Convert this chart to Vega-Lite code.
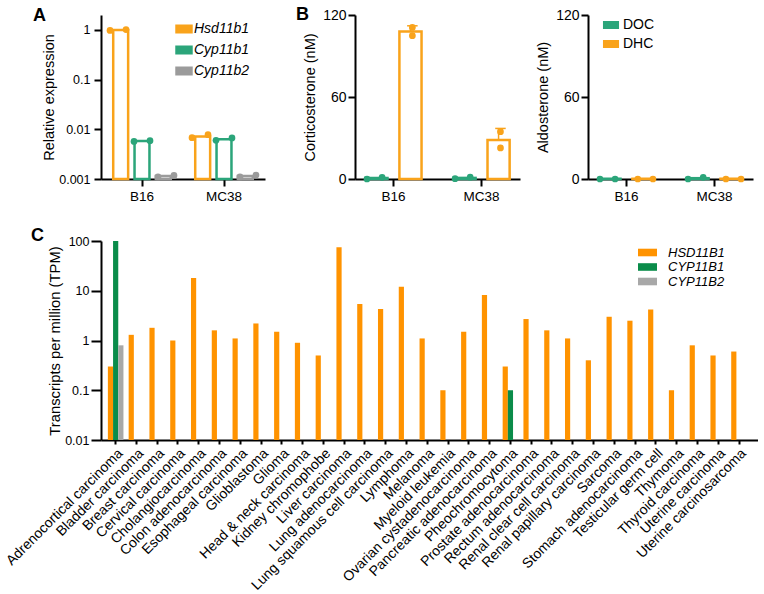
{
  "$schema": "https://vega.github.io/schema/vega-lite/v6.json",
  "padding": {"left": 3, "top": 6, "right": 0, "bottom": 0},
  "config": {
    "font": "Liberation Sans",
    "view": {"stroke": null},
    "axis": {"domainColor": "black", "domainWidth": 2, "tickColor": "black", "tickWidth": 2, "labelColor": "black", "titleColor": "black", "labelFontSize": 13, "titleFontSize": 14.5, "titleFontWeight": "normal", "grid": false},
    "title": {"fontSize": 18, "fontWeight": "bold", "anchor": "start", "frame": "group", "color": "black"},
    "legend": {"labelColor": "black"}
  },
  "datasets": {
    "aBars": [
      {"group": "B16", "gene": "Hsd11b1", "value": 1.0},
      {"group": "B16", "gene": "Cyp11b1", "value": 0.0058},
      {"group": "B16", "gene": "Cyp11b2", "value": 0.00115},
      {"group": "MC38", "gene": "Hsd11b1", "value": 0.0072},
      {"group": "MC38", "gene": "Cyp11b1", "value": 0.0063},
      {"group": "MC38", "gene": "Cyp11b2", "value": 0.00115}
    ],
    "aDots": [
      {"group": "B16", "gene": "Hsd11b1", "slot": "Hsd11b1-a", "value": 0.98},
      {"group": "B16", "gene": "Hsd11b1", "slot": "Hsd11b1-b", "value": 1.02},
      {"group": "B16", "gene": "Cyp11b1", "slot": "Cyp11b1-a", "value": 0.0057},
      {"group": "B16", "gene": "Cyp11b1", "slot": "Cyp11b1-b", "value": 0.0059},
      {"group": "B16", "gene": "Cyp11b2", "slot": "Cyp11b2-a", "value": 0.0011},
      {"group": "B16", "gene": "Cyp11b2", "slot": "Cyp11b2-b", "value": 0.00118},
      {"group": "MC38", "gene": "Hsd11b1", "slot": "Hsd11b1-a", "value": 0.0068},
      {"group": "MC38", "gene": "Hsd11b1", "slot": "Hsd11b1-b", "value": 0.0078},
      {"group": "MC38", "gene": "Cyp11b1", "slot": "Cyp11b1-a", "value": 0.006},
      {"group": "MC38", "gene": "Cyp11b1", "slot": "Cyp11b1-b", "value": 0.0067},
      {"group": "MC38", "gene": "Cyp11b2", "slot": "Cyp11b2-a", "value": 0.0011},
      {"group": "MC38", "gene": "Cyp11b2", "slot": "Cyp11b2-b", "value": 0.0012}
    ],
    "cBars": [
      {"group": "B16", "gene": "DOC", "value": 0.7},
      {"group": "B16", "gene": "DHC", "value": 107.9},
      {"group": "MC38", "gene": "DOC", "value": 0.8},
      {"group": "MC38", "gene": "DHC", "value": 28.6}
    ],
    "cErr": [
      {"group": "B16", "gene": "DHC", "slot": "DHC-m", "mean": 107.9, "hi": 112.1},
      {"group": "MC38", "gene": "DHC", "slot": "DHC-m", "mean": 28.6, "hi": 37.0}
    ],
    "cDots": [
      {"group": "B16", "gene": "DOC", "slot": "DOC-a", "value": 0.0},
      {"group": "B16", "gene": "DOC", "slot": "DOC-b", "value": 1.2},
      {"group": "B16", "gene": "DHC", "slot": "DHC-m", "value": 104.9},
      {"group": "B16", "gene": "DHC", "slot": "DHC-m", "value": 110.9},
      {"group": "MC38", "gene": "DOC", "slot": "DOC-a", "value": 0.2},
      {"group": "MC38", "gene": "DOC", "slot": "DOC-b", "value": 1.3},
      {"group": "MC38", "gene": "DHC", "slot": "DHC-m", "value": 22.7},
      {"group": "MC38", "gene": "DHC", "slot": "DHC-m", "value": 34.6}
    ],
    "alBars": [
      {"group": "B16", "gene": "DOC", "value": 0.2},
      {"group": "B16", "gene": "DHC", "value": 0.2},
      {"group": "MC38", "gene": "DOC", "value": 0.6},
      {"group": "MC38", "gene": "DHC", "value": 0.2}
    ],
    "alDots": [
      {"group": "B16", "gene": "DOC", "slot": "DOC-a", "value": 0.0},
      {"group": "B16", "gene": "DOC", "slot": "DOC-b", "value": 0.0},
      {"group": "B16", "gene": "DHC", "slot": "DHC-a", "value": 0.0},
      {"group": "B16", "gene": "DHC", "slot": "DHC-b", "value": 0.0},
      {"group": "MC38", "gene": "DOC", "slot": "DOC-a", "value": 0.0},
      {"group": "MC38", "gene": "DOC", "slot": "DOC-b", "value": 1.2},
      {"group": "MC38", "gene": "DHC", "slot": "DHC-a", "value": 0.0},
      {"group": "MC38", "gene": "DHC", "slot": "DHC-b", "value": 0.0}
    ],
    "tcga": [
      {"cancer": "Adrenocortical carcinoma", "gene": "HSD11B1", "value": 0.3},
      {"cancer": "Adrenocortical carcinoma", "gene": "CYP11B1", "value": 100},
      {"cancer": "Adrenocortical carcinoma", "gene": "CYP11B2", "value": 0.8},
      {"cancer": "Bladder carcinoma", "gene": "HSD11B1", "value": 1.3},
      {"cancer": "Breast carcinoma", "gene": "HSD11B1", "value": 1.8},
      {"cancer": "Cervical carcinoma", "gene": "HSD11B1", "value": 1.0},
      {"cancer": "Cholangiocarcinoma", "gene": "HSD11B1", "value": 18},
      {"cancer": "Colon adenocarcinoma", "gene": "HSD11B1", "value": 1.6},
      {"cancer": "Esophageal carcinoma", "gene": "HSD11B1", "value": 1.1},
      {"cancer": "Glioblastoma", "gene": "HSD11B1", "value": 2.2},
      {"cancer": "Glioma", "gene": "HSD11B1", "value": 1.5},
      {"cancer": "Head & neck carcinoma", "gene": "HSD11B1", "value": 0.9},
      {"cancer": "Kidney chromophobe", "gene": "HSD11B1", "value": 0.5},
      {"cancer": "Liver carcinoma", "gene": "HSD11B1", "value": 75},
      {"cancer": "Lung adenocarcinoma", "gene": "HSD11B1", "value": 5.4},
      {"cancer": "Lung squamous cell carcinoma", "gene": "HSD11B1", "value": 4.3},
      {"cancer": "Lymphoma", "gene": "HSD11B1", "value": 12},
      {"cancer": "Melanoma", "gene": "HSD11B1", "value": 1.1},
      {"cancer": "Myeloid leukemia", "gene": "HSD11B1", "value": 0.1},
      {"cancer": "Ovarian cystadenocarcinoma", "gene": "HSD11B1", "value": 1.5},
      {"cancer": "Pancreatic adenocarcinoma", "gene": "HSD11B1", "value": 8.2},
      {"cancer": "Pheochromocytoma", "gene": "HSD11B1", "value": 0.3},
      {"cancer": "Pheochromocytoma", "gene": "CYP11B1", "value": 0.1},
      {"cancer": "Prostate adenocarcinoma", "gene": "HSD11B1", "value": 2.7},
      {"cancer": "Rectum adenocarcinoma", "gene": "HSD11B1", "value": 1.6},
      {"cancer": "Renal clear cell carcinoma", "gene": "HSD11B1", "value": 1.1},
      {"cancer": "Renal papillary carcinoma", "gene": "HSD11B1", "value": 0.4},
      {"cancer": "Sarcoma", "gene": "HSD11B1", "value": 3.0},
      {"cancer": "Stomach adenocarcinoma", "gene": "HSD11B1", "value": 2.5},
      {"cancer": "Testicular germ cell", "gene": "HSD11B1", "value": 4.2},
      {"cancer": "Thymoma", "gene": "HSD11B1", "value": 0.1},
      {"cancer": "Thyroid carcinoma", "gene": "HSD11B1", "value": 0.8},
      {"cancer": "Uterine carcinoma", "gene": "HSD11B1", "value": 0.5},
      {"cancer": "Uterine carcinosarcoma", "gene": "HSD11B1", "value": 0.6}
    ]
  },
  "bounds": "flush",
  "spacing": 226,
  "resolve": {"scale": {"color": "independent", "stroke": "independent", "xOffset": "independent", "x": "independent", "y": "independent"}, "legend": {"color": "independent", "stroke": "independent"}},
  "vconcat": [
    {
      "bounds": "flush",
      "spacing": 90,
      "resolve": {"scale": {"color": "independent", "stroke": "independent", "xOffset": "independent", "x": "independent", "y": "independent"}, "legend": {"color": "independent", "stroke": "independent"}},
      "hconcat": [
        {
          "width": 164, "height": 164,
          "title": {"text": "A", "dx": -68, "dy": 14},
          "layer": [
            {
              "data": {"name": "aBars"},
              "mark": {"type": "bar", "fill": "white", "strokeWidth": 2.5},
              "encoding": {
                "x": {"field": "group", "type": "nominal", "sort": ["B16", "MC38"], "scale": {"type": "band", "paddingInner": 0.22, "paddingOuter": 0.11}, "axis": {"title": null, "labelAngle": 0, "tickSize": 7, "labelPadding": 3, "labelFontSize": 13.5}},
                "xOffset": {"field": "gene", "type": "nominal", "scale": {"domain": ["Hsd11b1", "Cyp11b1", "Cyp11b2"], "paddingInner": 0.3, "paddingOuter": 0.15}},
                "y": {"field": "value", "type": "quantitative", "scale": {"type": "log", "domain": [0.001, 2], "nice": false}, "axis": {"title": "Relative expression", "values": [0.001, 0.01, 0.1, 1], "format": "~g", "tickSize": 7, "labelPadding": 4, "titlePadding": 2, "labelFontSize": 12.5}},
                "y2": {"datum": 0.001},
                "stroke": {"field": "gene", "type": "nominal", "scale": {"domain": ["Hsd11b1", "Cyp11b1", "Cyp11b2"], "range": ["#F9A31B", "#2BA57A", "#9B9B9B"]},
                  "legend": {"orient": "none", "legendX": 76, "legendY": 7, "title": null, "symbolType": "M-2,-0.9H2V0.9H-2Z", "symbolSize": 56, "symbolStrokeWidth": 2.5, "labelFontSize": 14, "labelFontStyle": "italic", "rowPadding": 3, "labelOffset": 3, "encode": {"symbols": {"update": {"fill": {"value": "white"}}}}}}
              }
            },
            {
              "data": {"name": "aDots"},
              "mark": {"type": "point", "filled": true, "size": 45, "opacity": 1},
              "encoding": {
                "x": {"field": "group", "type": "nominal", "sort": ["B16", "MC38"], "scale": {"type": "band", "paddingInner": 0.22, "paddingOuter": 0.11}},
                "xOffset": {"field": "slot", "type": "nominal", "scale": {"domain": ["Hsd11b1-a", "Hsd11b1-m", "Hsd11b1-b", "Cyp11b1-a", "Cyp11b1-m", "Cyp11b1-b", "Cyp11b2-a", "Cyp11b2-m", "Cyp11b2-b"], "paddingInner": 0, "paddingOuter": 0}},
                "y": {"field": "value", "type": "quantitative"},
                "color": {"field": "gene", "type": "nominal", "scale": {"domain": ["Hsd11b1", "Cyp11b1", "Cyp11b2"], "range": ["#F9A31B", "#2BA57A", "#9B9B9B"]}, "legend": null}
              }
            }
          ],
          "resolve": {"scale": {"xOffset": "independent"}}
        },
        {
          "bounds": "flush",
          "spacing": 68,
          "resolve": {"scale": {"color": "independent", "stroke": "independent", "xOffset": "independent", "x": "independent", "y": "independent"}, "legend": {"color": "independent", "stroke": "independent"}},
          "hconcat": [
            {
              "width": 165, "height": 164,
              "title": {"text": "B", "dx": -59, "dy": 20},
              "layer": [
                {
                  "data": {"name": "cBars"},
                  "mark": {"type": "bar", "fill": "white", "strokeWidth": 2.5},
                  "encoding": {
                    "x": {"field": "group", "type": "nominal", "sort": ["B16", "MC38"], "scale": {"type": "band", "paddingInner": 0.227, "paddingOuter": 0.05}, "axis": {"title": null, "labelAngle": 0, "tickSize": 7, "labelPadding": 3, "labelFontSize": 13.5}},
                    "xOffset": {"field": "gene", "type": "nominal", "scale": {"domain": ["DOC", "DHC"], "paddingInner": 0.35, "paddingOuter": 0.175}},
                    "y": {"field": "value", "type": "quantitative", "scale": {"domain": [0, 120], "nice": false}, "axis": {"title": "Corticosterone (nM)", "values": [0, 60, 120], "tickSize": 7, "labelPadding": 2, "titlePadding": 5, "labelFontSize": 14}},
                    "stroke": {"field": "gene", "type": "nominal", "scale": {"domain": ["DOC", "DHC"], "range": ["#2BA57A", "#F9A31B"]}, "legend": null}
                  }
                },
                {
                  "data": {"name": "cErr"},
                  "mark": {"type": "rule", "strokeWidth": 1.5},
                  "encoding": {
                    "x": {"field": "group", "type": "nominal", "sort": ["B16", "MC38"], "scale": {"type": "band", "paddingInner": 0.227, "paddingOuter": 0.05}},
                    "xOffset": {"field": "slot", "type": "nominal", "scale": {"domain": ["p1", "DOC-a", "DOC-m", "DOC-b", "p2", "p3", "DHC-a", "DHC-m", "DHC-b", "p4"], "paddingInner": 0, "paddingOuter": 0}},
                    "y": {"field": "mean", "type": "quantitative"},
                    "y2": {"field": "hi"},
                    "color": {"field": "gene", "type": "nominal", "scale": {"domain": ["DOC", "DHC"], "range": ["#2BA57A", "#F9A31B"]}, "legend": null}
                  }
                },
                {
                  "data": {"name": "cErr"},
                  "mark": {"type": "point", "shape": "stroke", "size": 110, "strokeWidth": 1.5, "opacity": 1},
                  "encoding": {
                    "x": {"field": "group", "type": "nominal", "sort": ["B16", "MC38"], "scale": {"type": "band", "paddingInner": 0.227, "paddingOuter": 0.05}},
                    "xOffset": {"field": "slot", "type": "nominal", "scale": {"domain": ["p1", "DOC-a", "DOC-m", "DOC-b", "p2", "p3", "DHC-a", "DHC-m", "DHC-b", "p4"], "paddingInner": 0, "paddingOuter": 0}},
                    "y": {"field": "hi", "type": "quantitative"},
                    "color": {"field": "gene", "type": "nominal", "scale": {"domain": ["DOC", "DHC"], "range": ["#2BA57A", "#F9A31B"]}, "legend": null}
                  }
                },
                {
                  "data": {"name": "cDots"},
                  "mark": {"type": "point", "filled": true, "size": 45, "opacity": 1},
                  "encoding": {
                    "x": {"field": "group", "type": "nominal", "sort": ["B16", "MC38"], "scale": {"type": "band", "paddingInner": 0.227, "paddingOuter": 0.05}},
                    "xOffset": {"field": "slot", "type": "nominal", "scale": {"domain": ["p1", "DOC-a", "DOC-m", "DOC-b", "p2", "p3", "DHC-a", "DHC-m", "DHC-b", "p4"], "paddingInner": 0, "paddingOuter": 0}},
                    "y": {"field": "value", "type": "quantitative"},
                    "color": {"field": "gene", "type": "nominal", "scale": {"domain": ["DOC", "DHC"], "range": ["#2BA57A", "#F9A31B"]}, "legend": null}
                  }
                }
              ],
              "resolve": {"scale": {"xOffset": "independent"}}
            },
            {
              "width": 165, "height": 164,
              "layer": [
                {
                  "data": {"name": "alBars"},
                  "mark": {"type": "bar", "fill": "white", "strokeWidth": 2.5},
                  "encoding": {
                    "x": {"field": "group", "type": "nominal", "sort": ["B16", "MC38"], "scale": {"type": "band", "paddingInner": 0.227, "paddingOuter": 0.05}, "axis": {"title": null, "labelAngle": 0, "tickSize": 7, "labelPadding": 3, "labelFontSize": 13.5}},
                    "xOffset": {"field": "gene", "type": "nominal", "scale": {"domain": ["DOC", "DHC"], "paddingInner": 0.35, "paddingOuter": 0.175}},
                    "y": {"field": "value", "type": "quantitative", "scale": {"domain": [0, 120], "nice": false}, "axis": {"title": "Aldosterone (nM)", "values": [0, 60, 120], "tickSize": 7, "labelPadding": 2, "titlePadding": 5, "labelFontSize": 14}},
                    "stroke": {"field": "gene", "type": "nominal", "scale": {"domain": ["DOC", "DHC"], "range": ["#2BA57A", "#F9A31B"]},
                      "legend": {"orient": "none", "legendX": 16, "legendY": 3, "title": null, "symbolType": "M-2,-0.8H2V0.8H-2Z", "symbolSize": 46, "symbolStrokeWidth": 2.5, "labelFontSize": 14, "rowPadding": 3, "labelOffset": 5, "encode": {"symbols": {"update": {"fill": {"value": "white"}}}}}}
                  }
                },
                {
                  "data": {"name": "alDots"},
                  "mark": {"type": "point", "filled": true, "size": 45, "opacity": 1},
                  "encoding": {
                    "x": {"field": "group", "type": "nominal", "sort": ["B16", "MC38"], "scale": {"type": "band", "paddingInner": 0.227, "paddingOuter": 0.05}},
                    "xOffset": {"field": "slot", "type": "nominal", "scale": {"domain": ["p1", "DOC-a", "DOC-m", "DOC-b", "p2", "p3", "DHC-a", "DHC-m", "DHC-b", "p4"], "paddingInner": 0, "paddingOuter": 0}},
                    "y": {"field": "value", "type": "quantitative"},
                    "color": {"field": "gene", "type": "nominal", "scale": {"domain": ["DOC", "DHC"], "range": ["#2BA57A", "#F9A31B"]}, "legend": null}
                  }
                }
              ],
              "resolve": {"scale": {"xOffset": "independent"}}
            }
          ]
        }
      ]
    },
    {
      "width": 657, "height": 199,
      "title": {"text": "C", "dx": -70, "dy": 14},
      "data": {"name": "tcga"},
      "mark": {"type": "bar"},
      "encoding": {
        "x": {"field": "cancer", "type": "nominal", "sort": null, "scale": {"type": "band", "paddingInner": 0.25, "paddingOuter": 0.435, "align": 0.38}, "axis": {"title": null, "labelAngle": -45, "labelFontSize": 14, "labelLimit": 0, "tickSize": 4, "labelPadding": 2}},
        "xOffset": {"field": "gene", "type": "nominal", "scale": {"domain": ["HSD11B1", "CYP11B1", "CYP11B2"], "paddingInner": 0, "paddingOuter": 0}},
        "y": {"field": "value", "type": "quantitative", "scale": {"type": "log", "domain": [0.01, 100], "nice": false}, "axis": {"title": "Transcripts per million (TPM)", "values": [0.01, 0.1, 1, 10, 100], "format": "~g", "tickSize": 10, "labelPadding": 2, "titlePadding": 2, "labelFontSize": 12.5, "titleFontSize": 14.8}},
        "y2": {"datum": 0.01},
        "color": {"field": "gene", "type": "nominal", "scale": {"domain": ["HSD11B1", "CYP11B1", "CYP11B2"], "range": ["#FF9300", "#0A8C4A", "#A8A8A8"]},
          "legend": {"orient": "none", "legendX": 540, "legendY": 5, "title": null, "symbolType": "M-2,-0.8H2V0.8H-2Z", "symbolSize": 90, "symbolStrokeWidth": 0, "labelFontSize": 13, "labelFontStyle": "italic", "rowPadding": 0.5, "labelOffset": 14}}
      }
    }
  ]
}
